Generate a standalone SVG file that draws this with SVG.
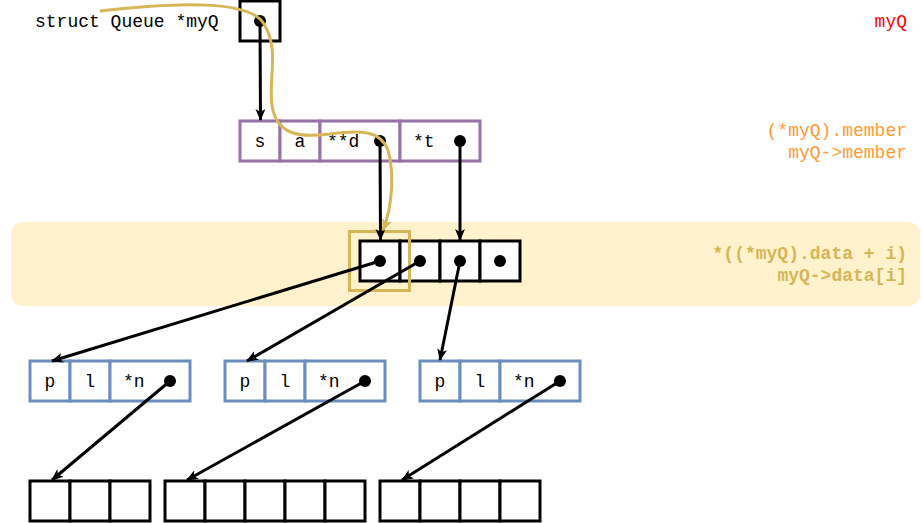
<svg xmlns="http://www.w3.org/2000/svg" width="922" height="523" viewBox="0 0 922 523">
<defs>
<marker id="ah" viewBox="0 0 12 10" refX="11" refY="5" markerWidth="12" markerHeight="10" markerUnits="userSpaceOnUse" orient="auto">
<path d="M0,0 L12,5 L0,10 L3,5 Z" fill="#000"/>
</marker>
<marker id="ahy" viewBox="0 0 12 10" refX="11" refY="5" markerWidth="12" markerHeight="10" markerUnits="userSpaceOnUse" orient="auto">
<path d="M0,0 L12,5 L0,10 L3,5 Z" fill="#d6b656"/>
</marker>
<style>
.t{font-family:"Liberation Mono","DejaVu Sans Mono",monospace;font-size:18px;fill:#000}
.c{text-anchor:middle}
.blk{fill:#fff;stroke:#000;stroke-width:3}
.pur{fill:#fff;stroke:#9673a6;stroke-width:3}
.blu{fill:#fff;stroke:#6c8ebf;stroke-width:3}
.dot{fill:#000}
.ln{stroke:#000;stroke-width:3;fill:none;marker-end:url(#ah)}
</style>
</defs>
<rect x="11" y="222" width="909" height="84" rx="12" fill="#fff2cc"/>
<text class="t" x="35" y="27">struct Queue *myQ</text>
<text class="t" x="907" y="27" text-anchor="end" fill="#ff0000" style="fill:#ff0000">myQ</text>
<text class="t" x="907" y="136" text-anchor="end" style="fill:#ff9933">(*myQ).member</text>
<text class="t" x="907" y="158" text-anchor="end" style="fill:#ff9933">myQ-&gt;member</text>
<text class="t" x="907" y="259" text-anchor="end" font-weight="bold" style="fill:#d6b656">*((*myQ).data + i)</text>
<text class="t" x="907" y="281" text-anchor="end" font-weight="bold" style="fill:#d6b656">myQ-&gt;data[i]</text>
<g id="myQ">
<rect class="blk" x="240" y="1" width="40" height="40"/>
</g>
<g id="queue">
<rect class="pur" x="240" y="121" width="40" height="40"/>
<rect class="pur" x="280" y="121" width="40" height="40"/>
<rect class="pur" x="320" y="121" width="80" height="40"/>
<rect class="pur" x="400" y="121" width="80" height="40"/>
<text class="t c" x="260" y="147">s</text>
<text class="t c" x="300" y="147">a</text>
<text class="t" x="327" y="147">**d</text>
<text class="t" x="413" y="147">*t</text>
</g>
<g id="array">
<rect class="blk" x="360" y="241" width="40" height="40"/>
<rect class="blk" x="400" y="241" width="40" height="40"/>
<rect class="blk" x="440" y="241" width="40" height="40"/>
<rect class="blk" x="480" y="241" width="40" height="40"/>
</g>
<g id="highlight">
<rect x="349.5" y="231.5" width="60" height="59" fill="none" stroke="#d6b656" stroke-width="3"/>
</g>
<g id="node1">
<rect class="blu" x="30" y="361" width="40" height="40"/>
<rect class="blu" x="70" y="361" width="40" height="40"/>
<rect class="blu" x="110" y="361" width="80" height="40"/>
<text class="t c" x="50" y="387">p</text>
<text class="t c" x="90" y="387">l</text>
<text class="t" x="123" y="387">*n</text>
</g>
<g id="node2">
<rect class="blu" x="225" y="361" width="40" height="40"/>
<rect class="blu" x="265" y="361" width="40" height="40"/>
<rect class="blu" x="305" y="361" width="80" height="40"/>
<text class="t c" x="245" y="387">p</text>
<text class="t c" x="285" y="387">l</text>
<text class="t" x="318" y="387">*n</text>
</g>
<g id="node3">
<rect class="blu" x="420" y="361" width="40" height="40"/>
<rect class="blu" x="460" y="361" width="40" height="40"/>
<rect class="blu" x="500" y="361" width="80" height="40"/>
<text class="t c" x="440" y="387">p</text>
<text class="t c" x="480" y="387">l</text>
<text class="t" x="513" y="387">*n</text>
</g>
<g id="arr1">
<rect class="blk" x="30" y="481" width="40" height="40"/>
<rect class="blk" x="70" y="481" width="40" height="40"/>
<rect class="blk" x="110" y="481" width="40" height="40"/>
</g>
<g id="arr2">
<rect class="blk" x="165" y="481" width="40" height="40"/>
<rect class="blk" x="205" y="481" width="40" height="40"/>
<rect class="blk" x="245" y="481" width="40" height="40"/>
<rect class="blk" x="285" y="481" width="40" height="40"/>
<rect class="blk" x="325" y="481" width="40" height="40"/>
</g>
<g id="arr3">
<rect class="blk" x="380" y="481" width="40" height="40"/>
<rect class="blk" x="420" y="481" width="40" height="40"/>
<rect class="blk" x="460" y="481" width="40" height="40"/>
<rect class="blk" x="500" y="481" width="40" height="40"/>
</g>
<g id="connectors">
<line class="ln" x1="260" y1="21" x2="260.5" y2="120"/>
<line class="ln" x1="380" y1="141" x2="380.5" y2="240"/>
<line class="ln" x1="460" y1="141" x2="460" y2="240"/>
<line class="ln" x1="380" y1="261" x2="52" y2="361"/>
<line class="ln" x1="420" y1="261" x2="247" y2="361"/>
<line class="ln" x1="460" y1="261" x2="440" y2="360"/>
<line class="ln" x1="170" y1="381" x2="52" y2="480"/>
<line class="ln" x1="365" y1="381" x2="187" y2="480"/>
<line class="ln" x1="560" y1="381" x2="402" y2="480"/>
<circle class="dot" cx="260" cy="21" r="6"/>
<circle class="dot" cx="380" cy="141" r="6"/>
<circle class="dot" cx="460" cy="141" r="6"/>
<circle class="dot" cx="380" cy="261" r="6"/>
<circle class="dot" cx="420" cy="261" r="6"/>
<circle class="dot" cx="460" cy="261" r="6"/>
<circle class="dot" cx="500" cy="261" r="6"/>
<circle class="dot" cx="170" cy="381" r="6"/>
<circle class="dot" cx="365" cy="381" r="6"/>
<circle class="dot" cx="560" cy="381" r="6"/>
<path d="M100,11 C180,2 250,0 264,24 C280,50 268,80 272,105 C276,135 300,138 330,134 C360,130 380,130 388,150 C394,172 393,205 383,230" fill="none" stroke="#d6b656" stroke-width="3" marker-end="url(#ahy)"/>
</g>
</svg>
